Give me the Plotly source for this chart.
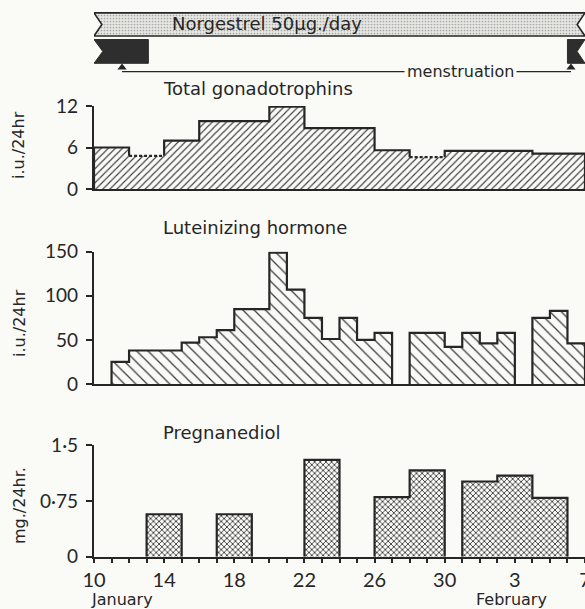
import plotly.graph_objects as go

# ---------------- data (day index 0 = 10 January) ----------------
x_tick_days = [0, 4, 8, 12, 16, 20, 24, 28]
x_tick_labels = ["10", "14", "18", "22", "26", "30", "3", "7"]

# Total gonadotrophins, i.u./24hr
tg_start = [0, 2, 4, 6, 10, 12, 16, 18, 20, 25]
tg_end = [2, 4, 6, 10, 12, 16, 18, 20, 25, 28]
tg_value = [6.0, 4.8, 7.0, 9.8, 11.9, 8.8, 5.6, 4.6, 5.5, 5.1]
tg_dashed = [False, True, False, False, False, False, False, True, False, False]
tg_ticks = [0, 6, 12]
tg_ticktext = ["0", "6", "12"]

# Luteinizing hormone, i.u./24hr
lh_start = [1, 2, 5, 6, 7, 8, 10, 11, 12, 13, 14, 15, 16, 18, 20, 21, 22, 23, 25, 26, 27]
lh_end = [2, 5, 6, 7, 8, 10, 11, 12, 13, 14, 15, 16, 17, 20, 21, 22, 23, 24, 26, 27, 28]
lh_value = [25, 38, 47, 53, 61, 85, 149, 107, 75, 51, 75, 50, 58, 58, 42, 58, 46, 58, 75, 83, 46]
lh_ticks = [0, 50, 100, 150]
lh_ticktext = ["0", "50", "100", "150"]

# Pregnanediol, mg./24hr.
pd_start = [3, 7, 12, 16, 18, 21, 23, 25]
pd_end = [5, 9, 14, 18, 20, 23, 25, 27]
pd_value = [0.57, 0.57, 1.30, 0.80, 1.16, 1.01, 1.09, 0.79]
pd_ticks = [0, 0.75, 1.5]
pd_ticktext = ["0", "0·75", "1·5"]

# Treatment / menstruation
treat_start, treat_end = 0, 28
menses_start = [0, 27.0]
menses_end = [3.1, 28]
menses_mark = [1.6, 27.2]

# ---------------- styling ----------------
INK = "#262626"
BG = "#fafaf7"
TICKFONT = "Lato"
TEXTFONT = "DejaVu Sans"
LW = 2.2


def fill_path(starts, ends, values):
    xs, ys = [], []
    prev_end = None
    for s, e, v in zip(starts, ends, values):
        if prev_end is None or s != prev_end:
            if prev_end is not None:
                xs += [prev_end, None]
                ys += [0, None]
            xs.append(s)
            ys.append(0)
        xs += [s, e]
        ys += [v, v]
        prev_end = e
    xs.append(prev_end)
    ys.append(0)
    return xs, ys


def outline_paths(starts, ends, values, dashed=None):
    sx, sy, dx, dy = [], [], [], []
    prev_end = None
    for i, (s, e, v) in enumerate(zip(starts, ends, values)):
        if prev_end is None or s != prev_end:
            if prev_end is not None:
                sx += [prev_end, None]
                sy += [0, None]
            sx.append(s)
            sy.append(0)
        if dashed and dashed[i]:
            sx += [s, None, e]
            sy += [v, None, v]
            dx += [s, e, None]
            dy += [v, v, None]
        else:
            sx += [s, e]
            sy += [v, v]
        prev_end = e
    sx.append(prev_end)
    sy.append(0)
    return sx, sy, dx, dy


fig = go.Figure()


def add_panel(starts, ends, values, xa, ya, shape, size, solidity, dashed=None):
    fx, fy = fill_path(starts, ends, values)
    fig.add_trace(go.Scatter(
        x=fx, y=fy, xaxis=xa, yaxis=ya, mode="lines", fill="toself",
        fillcolor="rgba(0,0,0,0)", line=dict(width=0),
        fillpattern=dict(shape=shape, size=size, solidity=solidity,
                         fgcolor=INK, bgcolor=BG, fgopacity=0.9),
        hoverinfo="skip", showlegend=False))
    sx, sy, dx, dy = outline_paths(starts, ends, values, dashed)
    fig.add_trace(go.Scatter(
        x=sx, y=sy, xaxis=xa, yaxis=ya, mode="lines",
        line=dict(color=INK, width=LW), showlegend=False, hoverinfo="skip"))
    if dx:
        fig.add_trace(go.Scatter(
            x=dx, y=dy, xaxis=xa, yaxis=ya, mode="lines",
            line=dict(color=INK, width=LW, dash="3px,2px"),
            showlegend=False, hoverinfo="skip"))


add_panel(tg_start, tg_end, tg_value, "x", "y", "/", 5, 0.22, tg_dashed)
add_panel(lh_start, lh_end, lh_value, "x2", "y2", "\\", 8, 0.16)
add_panel(pd_start, pd_end, pd_value, "x3", "y3", "x", 4, 0.4)

# ---------------- header (treatment banner and menstruation) ----------------
b_lo, b_hi, notch = 0.60, 0.93, 0.45
b_mid = (b_lo + b_hi) / 2
fig.add_trace(go.Scatter(
    x=[treat_start, treat_start + notch, treat_start, treat_end, treat_end - notch, treat_end, treat_start],
    y=[b_lo, b_mid, b_hi, b_hi, b_mid, b_lo, b_lo],
    xaxis="x4", yaxis="y4", mode="lines", fill="toself", fillcolor="rgba(0,0,0,0)",
    fillpattern=dict(shape=".", size=3, solidity=0.25, fgcolor="#666", bgcolor="#e6e6e2"),
    line=dict(color=INK, width=1.6), showlegend=False, hoverinfo="skip"))

f_lo, f_hi = 0.21, 0.55
f_mid = (f_lo + f_hi) / 2
fig.add_trace(go.Scatter(
    x=[menses_start[0], menses_start[0] + 0.5, menses_start[0], menses_end[0], menses_end[0], menses_start[0], None,
       menses_start[1], menses_end[1], menses_end[1] - 0.45, menses_end[1], menses_start[1], menses_start[1]],
    y=[f_lo, f_mid, f_hi, f_hi, f_lo, f_lo, None,
       f_lo, f_lo, f_mid, f_hi, f_hi, f_lo],
    xaxis="x4", yaxis="y4", mode="lines", fill="toself", fillcolor="#2e2e2e",
    line=dict(color="#2e2e2e", width=1), showlegend=False, hoverinfo="skip"))

line_y = 0.09
fig.add_trace(go.Scatter(
    x=[menses_mark[0], menses_mark[1]], y=[line_y, line_y], xaxis="x4", yaxis="y4",
    mode="lines", line=dict(color=INK, width=1.2), showlegend=False, hoverinfo="skip"))
fig.add_trace(go.Scatter(
    x=menses_mark, y=[line_y + 0.06, line_y + 0.06], xaxis="x4", yaxis="y4",
    mode="markers", marker=dict(symbol="triangle-up", size=8, color=INK),
    showlegend=False, hoverinfo="skip"))

# ---------------- layout ----------------
H, W = 609, 585
L = 94


def py(px):
    return 1 - px / H


xcommon = dict(range=[0, 28], showgrid=False, zeroline=False, showline=True,
               linecolor=INK, linewidth=LW, fixedrange=True)
ycommon = dict(showgrid=False, zeroline=False, showline=True, linecolor=INK,
               linewidth=LW, ticks="outside", ticklen=6, tickwidth=2, tickcolor=INK,
               ticklabelstandoff=4, tickfont=dict(family=TICKFONT, size=19, color=INK),
               fixedrange=True)

layout = dict(
    width=W, height=H,
    margin=dict(l=L, r=0, t=0, b=0, autoexpand=False),
    paper_bgcolor=BG, plot_bgcolor="rgba(0,0,0,0)",
    showlegend=False,
    xaxis=dict(**xcommon, anchor="y", showticklabels=False, ticks=""),
    xaxis2=dict(**xcommon, anchor="y2", showticklabels=False, ticks=""),
    xaxis3=dict(**xcommon, anchor="y3", tickmode="array", tickvals=x_tick_days,
                ticktext=x_tick_labels, ticks="outside", ticklen=4, tickwidth=2,
                tickcolor=INK, ticklabelstandoff=0, ticklabeloverflow="allow",
                minor=dict(dtick=1, ticks="outside", ticklen=4, tickwidth=2, tickcolor=INK),
                tickfont=dict(family=TICKFONT, size=20, color=INK)),
    xaxis4=dict(range=[0, 28], anchor="y4", visible=False, fixedrange=True),
    yaxis=dict(**ycommon, anchor="x", domain=[py(189), py(106)], range=[0, 12],
               tickmode="array", tickvals=tg_ticks, ticktext=tg_ticktext),
    yaxis2=dict(**ycommon, anchor="x2", domain=[py(384), py(251.7)], range=[0, 150],
                tickmode="array", tickvals=lh_ticks, ticktext=lh_ticktext),
    yaxis3=dict(**ycommon, anchor="x3", domain=[py(556.7), py(445)], range=[0, 1.5],
                tickmode="array", tickvals=pd_ticks, ticktext=pd_ticktext),
    yaxis4=dict(anchor="x4", domain=[py(78), py(8)], range=[0, 1], visible=False,
                fixedrange=True),
)

tfont = dict(family=TEXTFONT, size=18, color=INK)


def xp(px):
    return (px - L) / (W - L)


annotations = [
    dict(text="Norgestrel 50µg./day", x=xp(170), y=py(24), xanchor="left", yanchor="middle",
         font=dict(family=TEXTFONT, size=18, color=INK)),
    dict(text="menstruation", x=xp(460), y=py(72), xanchor="center", yanchor="middle",
         font=dict(family=TEXTFONT, size=16, color=INK), bgcolor=BG, borderpad=2),
    dict(text="Total gonadotrophins", x=xp(161), y=py(89), xanchor="left", yanchor="middle", font=tfont),
    dict(text="Luteinizing hormone", x=xp(161), y=py(227), xanchor="left", yanchor="middle", font=tfont),
    dict(text="Pregnanediol", x=xp(161), y=py(432), xanchor="left", yanchor="middle", font=tfont),
    dict(text="i.u./24hr", x=xp(18), y=py(145), textangle=-90, xanchor="center", yanchor="middle",
         font=dict(family=TEXTFONT, size=16, color=INK)),
    dict(text="i.u./24hr", x=xp(19), y=py(323), textangle=-90, xanchor="center", yanchor="middle",
         font=dict(family=TEXTFONT, size=16, color=INK)),
    dict(text="mg./24hr.", x=xp(19), y=py(506), textangle=-90, xanchor="center", yanchor="middle",
         font=dict(family=TEXTFONT, size=16, color=INK)),
    dict(text="January", x=xp(89), y=py(599), xanchor="left", yanchor="middle",
         font=dict(family=TEXTFONT, size=16, color=INK)),
    dict(text="February", x=xp(474), y=py(599), xanchor="left", yanchor="middle",
         font=dict(family=TEXTFONT, size=16, color=INK)),
]
for a in annotations:
    a.update(xref="paper", yref="paper", showarrow=False)
layout["annotations"] = annotations

fig.update_layout(**layout)
fig.write_html(
    "out.html",
    config={"displayModeBar": False},
    post_script="document.body.style.margin='0';document.body.style.overflow='hidden';",
)
